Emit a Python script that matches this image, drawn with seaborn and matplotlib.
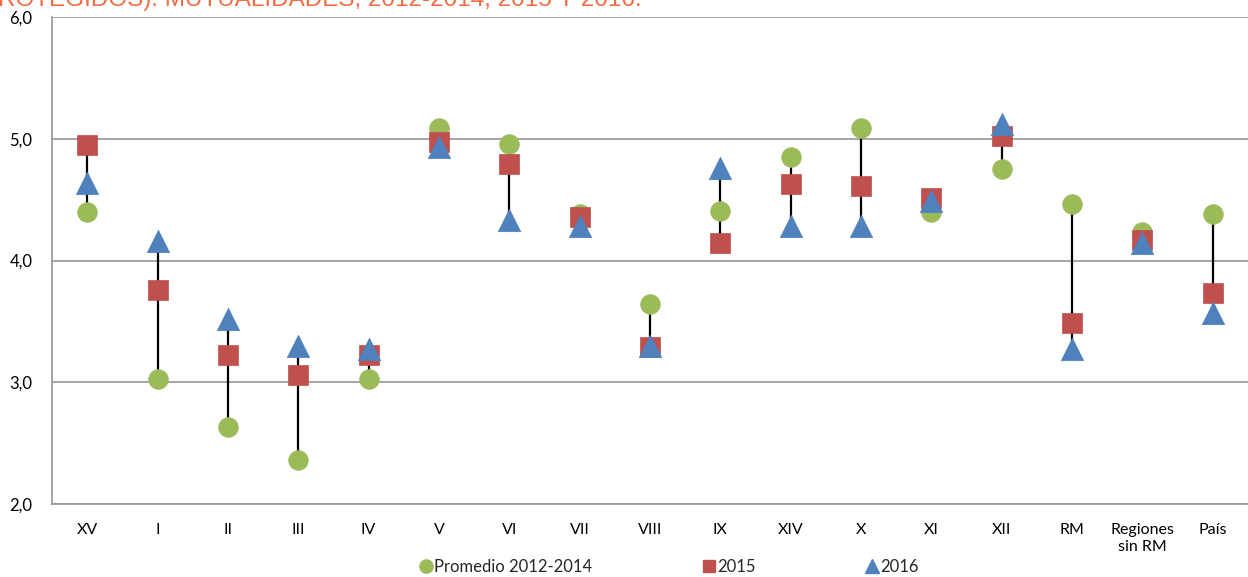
import numpy as np
import pandas as pd
import matplotlib
matplotlib.use('Agg')
import matplotlib.pyplot as plt
import seaborn as sns
from matplotlib.lines import Line2D
from matplotlib.ticker import FuncFormatter, FixedLocator

# datos
regiones = ['XV', 'I', 'II', 'III', 'IV', 'V', 'VI', 'VII', 'VIII', 'IX',
            'XIV', 'X', 'XI', 'XII', 'RM', 'Regiones\nsin RM', 'País']
promedio_2012_2014 = [4.40, 3.03, 2.63, 2.36, 3.03, 5.09, 4.96, 4.38, 3.64, 4.41,
                      4.85, 5.09, 4.40, 4.75, 4.46, 4.23, 4.38]
valores_2015 = [4.95, 3.76, 3.22, 3.06, 3.22, 4.97, 4.79, 4.36, 3.29, 4.14,
                4.63, 4.61, 4.51, 5.02, 3.49, 4.17, 3.73]
valores_2016 = [4.64, 4.16, 3.52, 3.30, 3.27, 4.93, 4.33, 4.28, 3.30, 4.76,
                4.28, 4.28, 4.49, 5.12, 3.27, 4.14, 3.57]

titulo = 'ROTEGIDOS). MUTUALIDADES, 2012-2014, 2015 Y 2016.'

VERDE = '#9BBB59'
ROJO = '#C0504D'
AZUL = '#4F81BD'

sns.set_style('white')
plt.rcParams['font.family'] = ['Lato', 'DejaVu Sans']

df = pd.DataFrame({
    'region': regiones,
    'prom': promedio_2012_2014,
    'v2015': valores_2015,
    'v2016': valores_2016,
})
df['x'] = np.arange(len(df))
df['lo'] = df[['prom', 'v2015', 'v2016']].min(axis=1)
df['hi'] = df[['prom', 'v2015', 'v2016']].max(axis=1)

fig = plt.figure(figsize=(12.48, 5.77), dpi=100)
ax = fig.add_axes([52 / 1248, 1 - 504 / 577, 1 - 52 / 1248, (504 - 17) / 577])

# lineas max-min
ax.vlines(df['x'], df['lo'], df['hi'], color='black', linewidth=1.6, zorder=2)

sns.scatterplot(data=df, x='x', y='prom', ax=ax, color=VERDE, marker='o',
                s=200, edgecolor=VERDE, linewidth=0.5, zorder=3)
sns.scatterplot(data=df, x='x', y='v2015', ax=ax, color=ROJO, marker='s',
                s=190, edgecolor=ROJO, linewidth=0.5, zorder=4)
sns.scatterplot(data=df, x='x', y='v2016', ax=ax, color=AZUL, marker='^',
                s=260, edgecolor=AZUL, linewidth=0.5, zorder=5)

ax.set_xlim(-0.5, len(df) - 0.5)
ax.set_ylim(2.0, 6.0)
ax.set_xlabel('')
ax.set_ylabel('')

# ejes estilo excel
for s in ['top', 'right']:
    ax.spines[s].set_visible(False)
for s in ['left', 'bottom']:
    ax.spines[s].set_color('#969696')
    ax.spines[s].set_linewidth(1.2)

ax.set_yticks([2.0, 3.0, 4.0, 5.0, 6.0])
ax.yaxis.set_major_formatter(FuncFormatter(lambda v, p: f'{v:.1f}'.replace('.', ',')))
ax.grid(axis='y', color='#969696', linewidth=1.2)
ax.set_axisbelow(True)

ax.set_xticks(df['x'])
ax.set_xticklabels(df['region'])
ax.xaxis.set_minor_locator(FixedLocator(np.arange(-0.5, len(df), 1.0)))
ax.tick_params(axis='x', which='major', length=0, pad=14, labelsize=11.5, labelcolor='black')
ax.tick_params(axis='x', which='minor', length=5, width=1.2, color='#969696', direction='out')
ax.tick_params(axis='y', which='major', length=5, width=1.2, color='#969696',
               direction='out', labelsize=12, labelcolor='black', pad=9)

# leyenda
handles = [
    Line2D([], [], marker='o', linestyle='', color=VERDE, markersize=9.5),
    Line2D([], [], marker='s', linestyle='', color=ROJO, markersize=9),
    Line2D([], [], marker='^', linestyle='', color=AZUL, markersize=9.5),
]
etiquetas = ['Promedio 2012-2014', '2015', '2016']
fig.legend(handles, etiquetas, loc='center left', bbox_to_anchor=(419 / 1248, 1 - 567 / 577),
           ncol=3, frameon=False, fontsize=12, handlelength=0.8,
           handletextpad=0.1, columnspacing=6.6, borderaxespad=0.0, borderpad=0.0)

fig.text(-0.002, 1 - 6 / 577, titulo, color='#F26B43', fontsize=17.5,
         family=['Liberation Sans', 'DejaVu Sans'], ha='left', va='baseline')

fig.savefig('out.png', dpi=100)
